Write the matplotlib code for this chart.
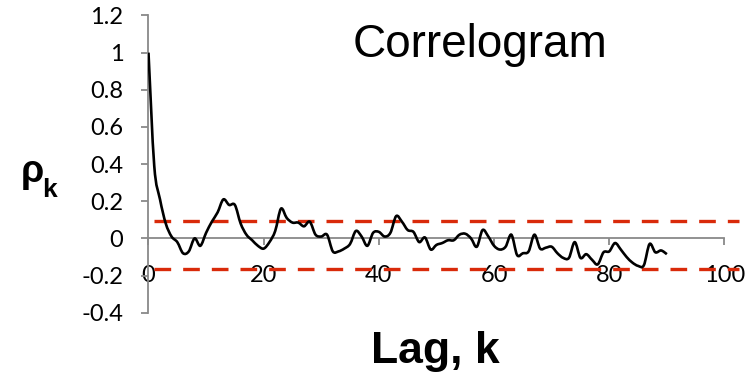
import matplotlib
matplotlib.use('Agg')
import matplotlib.pyplot as plt
from matplotlib.path import Path
from matplotlib.patches import PathPatch

# autocorrelation, one value per lag 0..90
lags = list(range(91))
rho = [1.00, 0.39, 0.21, 0.08, 0.01, -0.02, -0.08, -0.07, 0.00, -0.04,
       0.03, 0.09, 0.14, 0.21, 0.18, 0.18, 0.08, 0.02, -0.01, -0.04,
       -0.055, -0.02, 0.04, 0.16, 0.11, 0.085, 0.085, 0.065, 0.09, 0.02,
       0.01, 0.02, -0.07, -0.07, -0.055, -0.03, 0.04, 0.01, -0.04, 0.03,
       0.035, 0.01, 0.03, 0.12, 0.09, 0.045, 0.035, -0.02, 0.005, -0.06,
       -0.035, -0.025, -0.01, -0.01, 0.02, 0.025, 0.0, -0.045, 0.045, 0.01,
       -0.04, -0.06, -0.045, 0.02, -0.09, -0.08, -0.07, 0.02, -0.055, -0.05,
       -0.045, -0.08, -0.105, -0.105, -0.02, -0.105, -0.085, -0.115, -0.14, -0.075,
       -0.07, -0.025, -0.06, -0.1, -0.13, -0.148, -0.145, -0.03, -0.075, -0.065,
       -0.085]

# significance bounds (red dashed)
band_x = [1, 102.5]
upper = 0.091
lower = -0.163

xticks = [0, 20, 40, 60, 80, 100]
yticks = [-0.4, -0.2, 0, 0.2, 0.4, 0.6, 0.8, 1, 1.2]
ytick_labels = ['-0.4', '-0.2', '0', '0.2', '0.4', '0.6', '0.8', '1', '1.2']

gray = '#898989'
red = '#D92A0A'


def smooth_path(xs, ys):
    # spreadsheet-style "smoothed line": bezier segments through every point
    n = len(xs)
    verts = [(xs[0], ys[0])]
    codes = [Path.MOVETO]
    for i in range(n - 1):
        i0 = max(i - 1, 0)
        i3 = min(i + 2, n - 1)
        c1 = (xs[i] + (xs[i + 1] - xs[i0]) / 6, ys[i] + (ys[i + 1] - ys[i0]) / 6)
        c2 = (xs[i + 1] - (xs[i3] - xs[i]) / 6, ys[i + 1] - (ys[i3] - ys[i]) / 6)
        verts += [c1, c2, (xs[i + 1], ys[i + 1])]
        codes += [Path.CURVE4] * 3
    return Path(verts, codes)


fig = plt.figure(figsize=(7.53, 3.77), dpi=100)
ax = fig.add_axes([0.1972, 0.1706, 0.7955, 0.7883])

ax.plot(band_x, [upper, upper], color=red, lw=2.4, dashes=(5, 3.6))
ax.plot(band_x, [lower, lower], color=red, lw=2.4, dashes=(5, 3.6))
ax.add_patch(PathPatch(smooth_path(lags, rho), facecolor='none',
                       edgecolor='black', lw=1.9, joinstyle='round', zorder=3))

ax.set_xlim(0, 104)
ax.set_ylim(-0.4, 1.2)

# axes styled like the spreadsheet chart
ax.spines['top'].set_visible(False)
ax.spines['right'].set_visible(False)
ax.spines['bottom'].set_position(('data', 0))
ax.spines['bottom'].set_bounds(0, 100)
for s in ['bottom', 'left']:
    ax.spines[s].set_color(gray)
    ax.spines[s].set_linewidth(1.3)

ax.set_xticks(xticks)
ax.set_xticklabels([str(t) for t in xticks])
ax.set_yticks(yticks)
ax.set_yticklabels(ytick_labels)
ax.tick_params(axis='both', direction='out', length=5, width=1.3, color=gray,
               labelsize=17, labelcolor='black')
ax.tick_params(axis='x', pad=14)
ax.tick_params(axis='y', pad=13)
for lab in ax.get_xticklabels() + ax.get_yticklabels():
    lab.set_family('Lato')

fig.text(0.637, 0.849, 'Correlogram', ha='center', va='baseline',
         fontsize=33, family='Liberation Sans')
fig.text(0.578, 0.037, 'Lag, k', ha='center', va='baseline',
         fontsize=32, fontweight='bold', family='Liberation Sans')
fig.text(0.027, 0.518, '\u03c1', ha='left', va='baseline',
         fontsize=27, fontweight='bold', family='Liberation Sans')
fig.text(0.056, 0.477, 'k', ha='left', va='baseline',
         fontsize=19, fontweight='bold', family='Liberation Sans')

plt.savefig('out.png', dpi=100)
